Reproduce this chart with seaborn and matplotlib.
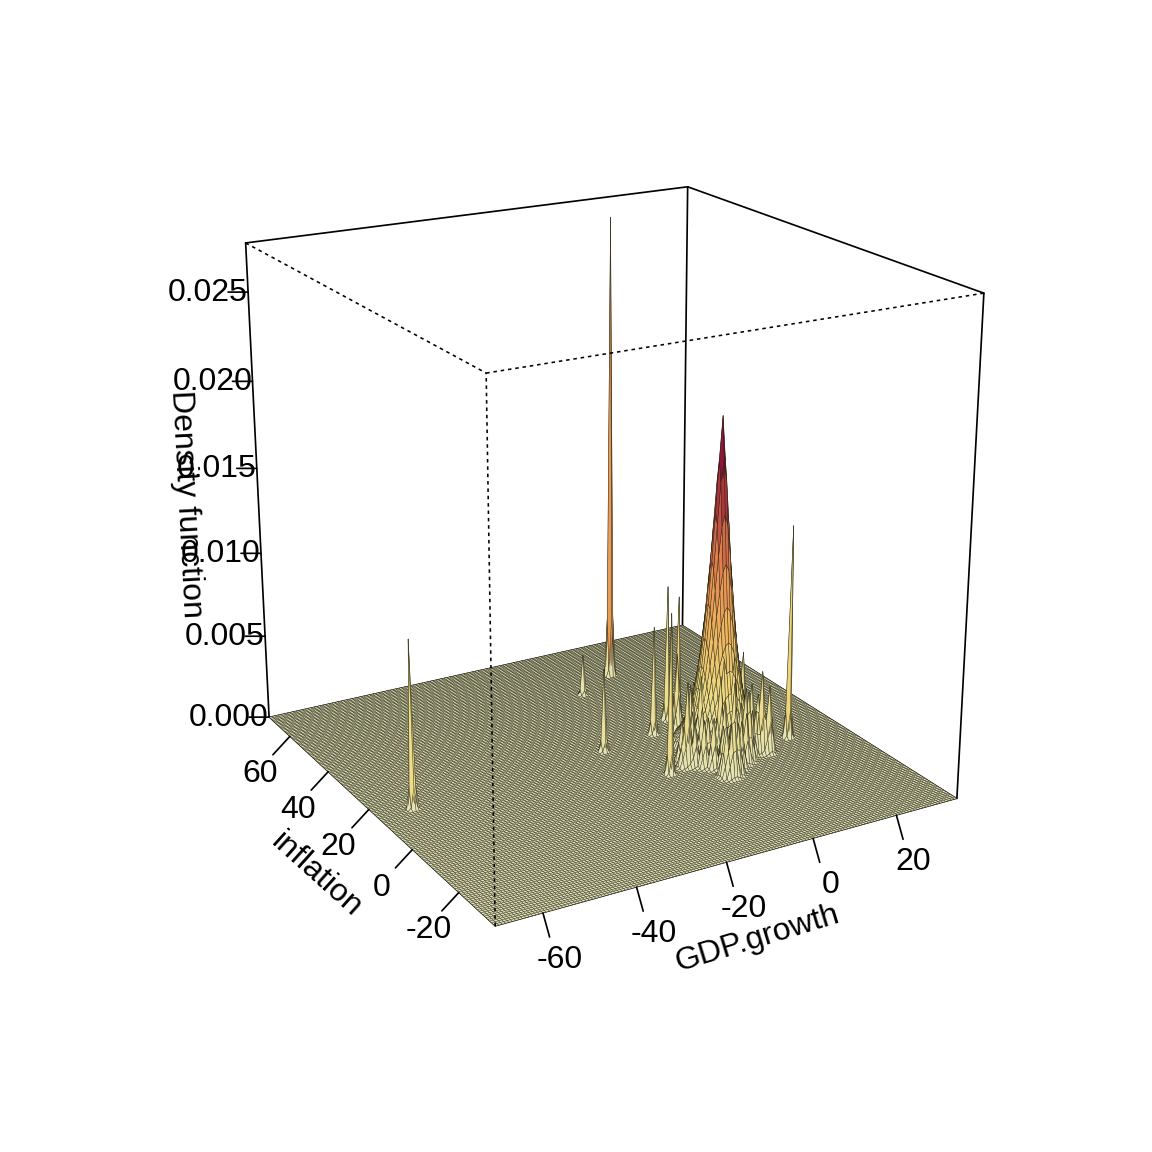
import numpy as np
import seaborn as sns
import matplotlib
matplotlib.use("Agg")
import matplotlib.pyplot as plt
from mpl_toolkits.mplot3d import proj3d

# axis ranges and ticks
XLIM = (-69.9, 35.0)
YLIM = (-34.75, 71.4)
ZLIM = (0.0, 0.0277)
x_ticks = [-60, -40, -20, 0, 20]
y_ticks = [-20, 0, 20, 40, 60]
z_ticks = [0.000, 0.005, 0.010, 0.015, 0.020, 0.025]
GRID_N = 150

# isolated spikes
spike_x = [5.6, -62.3, -5.4, -15.6, -2.3, 4.0, -9.4, 3.4, 21.5]
spike_y = [54.3, 15.6, 47.9, 19.8, 22.4, 27.1, 3.4, 21.5, 6.4]
spike_h = [0.0277, 0.0097, 0.00247, 0.00494, 0.0065, 0.00814, 0.00943, 0.00808, 0.01265]

# the big hill
hill_x, hill_y, hill_h, hill_w, hill_r = 7.85, 12.5, 0.0191, 3.3, 9.5

# small bumps around the foot of the hill
bump_x = [-4.7, -5.0, -2.0, -1.8, 0.1, -0.4, 0.2, 2.8, 7.5, 11.1, 12.7, 13.6, 1.2, 0.1, -4.5, 5.7, 14.4, 16.3, 12.6, 2.6,
          2.0, 4.0, 6.0, 9.0, 11.0, 3.0, 0.0, -1.0, 6.0, 8.0, 13.0, 15.0, 10.0, 5.0, 3.0, 8.5,
          -3.0, -0.5, 1.5, 4.5, 7.0, 9.5, -2.5, 0.8, 3.8, 6.5]
bump_y = [7.5, 4.8, 6.5, 2.9, 1.9, -3.0, -3.9, -3.7, 1.0, 2.8, 2.9, 2.4, -3.8, -3.2, 5.0, 18.4, 13.4, 12.3, 4.7, 20.6,
          10.0, 6.0, 4.0, 3.5, 6.0, 14.0, 11.0, 8.5, 8.0, 7.0, 8.0, 9.0, 10.0, 1.0, 3.0, 1.0,
          4.5, 3.8, 0.5, -1.0, 0.0, 2.5, 9.0, 7.0, 5.0, 2.0]
bump_h = [0.0025, 0.0025, 0.003, 0.0028, 0.003, 0.0028, 0.0032, 0.003, 0.0028, 0.0026, 0.0049, 0.004, 0.0033, 0.003,
          0.005, 0.0031, 0.0049, 0.0022, 0.0022, 0.0048,
          0.0045, 0.0048, 0.0045, 0.004, 0.0035, 0.0038, 0.004, 0.0035, 0.0055, 0.0055, 0.0036, 0.0028, 0.005, 0.0034, 0.0036, 0.003,
          0.0026, 0.0028, 0.0026, 0.0028, 0.003, 0.0028, 0.003, 0.003, 0.0032, 0.0034]

# fitted view of the box
ELEV, AZIM, ROLL, FOCAL = 19.99, -119.81, 0.007, 0.532
BOX = (1.0, 1.00719, 1.00055)
AX_POS = [0.13101, 0.15775, 0.76052, 0.76052]

sns.set_theme(style="white")
plt.rcParams["font.family"] = ["Liberation Sans", "DejaVu Sans"]
plt.rcParams["text.color"] = "black"

gx = np.linspace(*XLIM, GRID_N)
gy = np.linspace(*YLIM, GRID_N)
X, Y = np.meshgrid(gx, gy)
dx, dy = gx[1] - gx[0], gy[1] - gy[0]


def node(x0, y0):
    # nearest grid node, otherwise narrow peaks lose their height
    return gx[np.abs(gx - x0).argmin()], gy[np.abs(gy - y0).argmin()]


def bump(x0, y0, h, sigma):
    cx, cy = node(x0, y0)
    r2 = ((X - cx) / dx) ** 2 + ((Y - cy) / dy) ** 2
    return h * np.exp(-r2 / (2 * sigma ** 2))


cx, cy = node(hill_x, hill_y)
r = np.hypot(X - cx, Y - cy)
Z = np.where(r < hill_r, hill_h * np.exp(-(r / hill_w) ** 1.3), 0)
for a, b, h in zip(bump_x, bump_y, bump_h):
    Z = np.maximum(Z, bump(a, b, h, 0.85))
for a, b, h in zip(spike_x, spike_y, spike_h):
    Z = np.maximum(Z, bump(a, b, h, 0.5))

cmap = sns.blend_palette(["#e6e5b8", "#eeda80", "#efb25e", "#e2844e", "#b03c3f", "#7d0a34"], as_cmap=True)
facet = (Z[:-1, :-1] + Z[1:, :-1] + Z[:-1, 1:] + Z[1:, 1:]) / 4
colors = cmap(np.clip(facet / 0.018, 0, 1))

fig = plt.figure(figsize=(8, 8), dpi=144)
ax = fig.add_axes(AX_POS, projection="3d")
ax.computed_zorder = False
ax.set_xlim(*XLIM)
ax.set_ylim(*YLIM)
ax.set_zlim(*ZLIM)
ax.view_init(elev=ELEV, azim=AZIM, roll=ROLL)
ax.set_proj_type("persp", focal_length=FOCAL)
ax.set_box_aspect(BOX)
ax.set_axis_off()
ax.apply_aspect()

x0, x1 = XLIM
y0, y1 = YLIM
z0, z1 = ZLIM


def edge(a, b, **kw):
    ax.plot(*zip(a, b), color="black", solid_capstyle="round", **kw)


# lines behind the surface
for a, b in [((x0, y1, z1), (x1, y1, z1)), ((x1, y1, z1), (x1, y0, z1)), ((x1, y1, z0), (x1, y1, z1)),
             ((x0, y1, z0), (x0, y1, z1)), ((x1, y0, z0), (x1, y0, z1))]:
    edge(a, b, lw=0.85, zorder=1)

surf = ax.plot_surface(X, Y, Z, facecolors=colors, rstride=1, cstride=1, shade=False, zorder=2)
surf.set_edgecolor((0.1, 0.1, 0.05, 0.7))
surf.set_linewidth(0.26)

for a, b in [((x0, y0, z0), (x1, y0, z0)), ((x0, y0, z0), (x0, y1, z0)),
             ((x0, y1, z0), (x1, y1, z0)), ((x1, y0, z0), (x1, y1, z0))]:
    edge(a, b, lw=0.5, zorder=1.5)
for a, b in [((x0, y1, z1), (x0, y0, z1)), ((x0, y0, z1), (x1, y0, z1)), ((x0, y0, z0), (x0, y0, z1))]:
    edge(a, b, lw=0.8, ls=(0, (2.2, 2.4)), zorder=3)

M = ax.get_proj()


def to_view(p):
    a, b, _ = proj3d.proj_transform(p[0], p[1], p[2], M)
    return np.array([a, b], dtype=float)


def to_pix(p):
    return ax.transData.transform(to_view(p))


def tick(p, off, label, lab_off):
    # off and lab_off in points from the projected position
    xy = to_view(p)
    ax.annotate("", xy=xy, xytext=off, textcoords="offset points", annotation_clip=False, zorder=5,
                arrowprops=dict(arrowstyle="-", lw=0.85, color="black", shrinkA=0, shrinkB=0))
    ax.annotate(label, xy=xy, xytext=lab_off, textcoords="offset points", ha="center", va="center",
                fontsize=16, annotation_clip=False, zorder=5)


d = to_pix((x1, y0, z0)) - to_pix((x0, y0, z0))
perp_x = np.array([d[1], -d[0]]) / np.hypot(*d)
d = to_pix((x0, y1, z0)) - to_pix((x0, y0, z0))
perp_y = np.array([-d[1], d[0]]) / np.hypot(*d)

for v in x_ticks:
    tick((v, y0, z0), perp_x * 12.5, str(v), perp_x * 24 + np.array([2.2, -0.2]))
for v in y_ticks:
    tick((x0, v, z0), perp_y * 12.5, str(v), perp_y * 24.5 + np.array([1.5, -1]))
for v in z_ticks:
    tick((x0, y1, v), (-10, 0), f"{v:.3f}", (-20, -0.4))


def axis_label(p, off, text, rot):
    ax.annotate(text, xy=to_view(p), xytext=off, textcoords="offset points", ha="center", va="center",
                rotation=rot, rotation_mode="anchor", fontsize=16, annotation_clip=False, zorder=5)


axis_label(((x0 + x1) / 2, y0, z0), perp_x * 43 + np.array([-1.5, 1.5]), "GDP.growth", 17)
axis_label((x0, (y0 + y1) / 2, z0), perp_y * 40 + np.array([-1, -2]), "inflation", -42)
axis_label((x0, y1, z1 / 2), (-36, -8), "Density function", -87)

fig.savefig("out.png", dpi=144, facecolor="white")
